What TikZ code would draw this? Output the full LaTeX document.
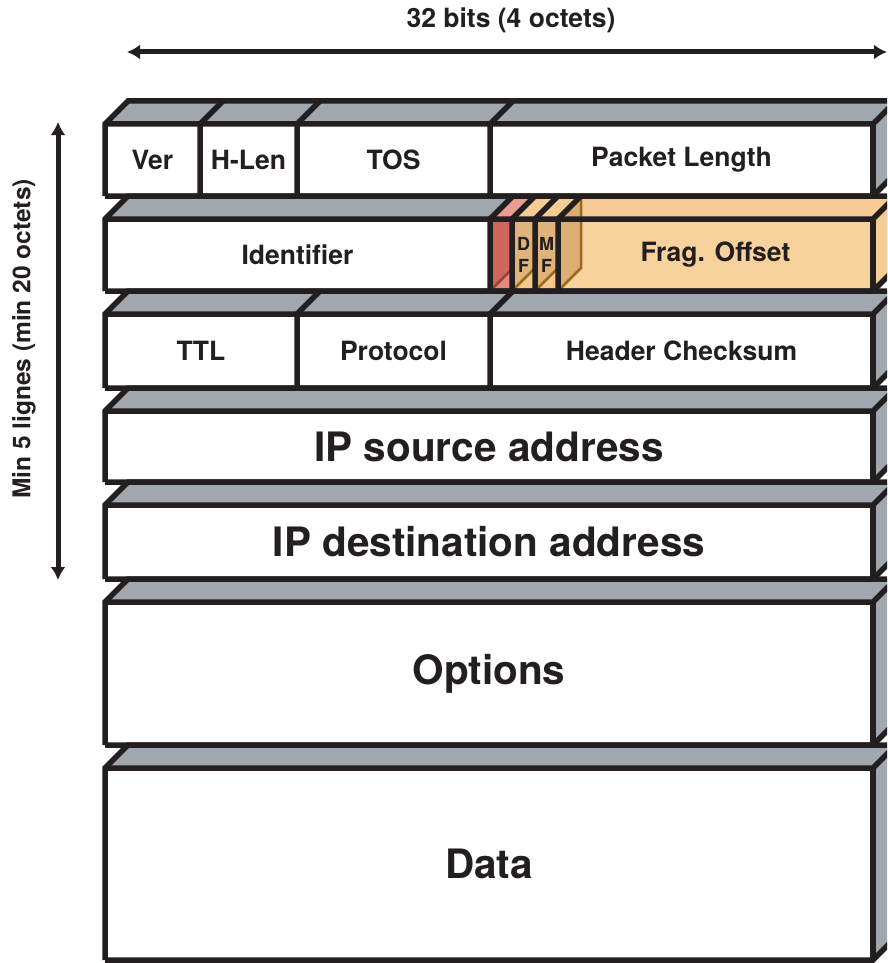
\documentclass[tikz,border=0pt]{standalone}
\usepackage{fontspec}
\setmainfont{TeX Gyre Heros}
\usetikzlibrary{arrows.meta}
\definecolor{ink}{HTML}{231F20}
\definecolor{slate}{HTML}{A0A7AF}
\definecolor{fragc}{HTML}{F8D29C}
\definecolor{fragtop}{HTML}{F5CC94}
\definecolor{fragside}{HTML}{DDAE72}
\definecolor{flagc}{HTML}{E0B378}
\definecolor{flaglt}{HTML}{F4C98F}
\definecolor{flagtop}{HTML}{EFC289}
\definecolor{redc}{HTML}{CF665D}
\definecolor{redlt}{HTML}{E5897F}
\definecolor{redtop}{HTML}{EC9D93}
\definecolor{brownl}{HTML}{9C6B1E}
\newcommand\iprow[4]{%
  \fill[#3] (105,#1) -- (128,{#1-23}) -- (896,{#1-23}) -- (873,#1) -- cycle;
  \fill[#3] (873,#1) -- (896,{#1-23}) -- (896,{#2-23}) -- (873,#2) -- cycle;
  \fill[#4] (105,#1) rectangle (873,#2);
}
\newcommand\iprowedge[2]{%
  \draw[edge] (105,#2) -- (105,#1) -- (128,{#1-23}) -- (896,{#1-23});
  \draw[edge] (105,#1) -- (873,#1) -- (896,{#1-23});
  \draw[edge] (105,#2) -- (873,#2) -- (896,{#2-23});
  \draw[edge] (873,#1) -- (873,#2);
}
\newcommand\ipdiv[3]{%
  \draw[edge] (#1,#3) -- (#1,#2) -- ({#1+23},{#2-23});
}
\begin{document}
\begin{tikzpicture}[x=1pt,y=-1pt,
  edge/.style={draw=ink,line width=5.5pt,line cap=butt},
  small/.style={text=ink,font=\fontsize{26.5}{30}\selectfont\bfseries,inner sep=0pt},
  big/.style={text=ink,font=\fontsize{40.5}{48}\selectfont\bfseries,inner sep=0pt},
  tiny/.style={text=ink,font=\fontsize{18}{18}\selectfont\bfseries,inner sep=0pt,align=center},
  dimarrow/.style={draw=ink,line width=5pt,{Latex[length=13pt,width=15pt]}-{Latex[length=13pt,width=15pt]}}]
\useasboundingbox (0,0) rectangle (887,963);
\clip (0,0) rectangle (887,963);
\fill[white] (0,0) rectangle (887,963);

% Row 1
\iprow{124}{196}{slate}{white}
\iprowedge{124}{196}
\ipdiv{200}{124}{196}
\ipdiv{297}{124}{196}
\ipdiv{490}{124}{196}
\node[small] (ver) at (152.5,160) {Ver};
\node[small] (hlen) at (248.5,160) {H-Len};
\node[small] (tos) at (393.5,160) {TOS};
\node[small] (plen) at (681.5,160) {Packet Length};

% Row 2
\iprow{219}{291}{slate}{white}
\fill[fragtop] (490,219) -- (513,196) -- (896,196) -- (873,219) -- cycle;
\fill[fragtop] (873,219) -- (896,196) -- (896,268) -- (873,291) -- cycle;
\fill[redtop] (490,219) -- (513,196) -- (535,196) -- (512,219) -- cycle;
\fill[redc] (490,219) rectangle (512,291);
\fill[redlt] (490,291) -- (512,269) -- (512,291) -- cycle;
\draw[draw=redc!70!black,line width=2.5pt] (492,289) -- (511,270);
\fill[flagc] (512,219) rectangle (558,291);
\fill[flaglt] (512,291) -- (535,268) -- (535,291) -- cycle;
\fill[flaglt] (535,291) -- (558,268) -- (558,291) -- cycle;
\draw[draw=brownl,line width=2.5pt] (514,289) -- (534,269);
\draw[draw=brownl,line width=2.5pt] (537,289) -- (557,269);
\fill[fragc] (558,219) rectangle (873,291);
\fill[fragside] (558,219) -- (581,196) -- (581,268) -- (558,291) -- cycle;
\draw[draw=brownl,line width=2.5pt] (581,198) -- (581,268) -- (560,289);
\draw[draw=redc!70!black,line width=2.5pt] (491,218) -- (512,197);
\iprowedge{219}{291}
\ipdiv{490}{219}{291}
\ipdiv{512}{219}{291}
\ipdiv{535}{219}{291}
\ipdiv{558}{219}{291}
\node[small] (ident) at (297.5,255) {Identifier};
\node[tiny] (df) at (523.5,255) {D\\[4pt]F};
\node[tiny] (mf) at (546.5,255) {M\\[4pt]F};
\node[small] (frag) at (715.5,255) {Frag. Offset};

% Row 3
\iprow{314}{388}{slate}{white}
\iprowedge{314}{388}
\ipdiv{297}{314}{388}
\ipdiv{490}{314}{388}
\node[small] (ttl) at (201,351) {TTL};
\node[small] (proto) at (393.5,351) {Protocol};
\node[small] (hcs) at (681.5,351) {Header Checksum};

% Row 4
\iprow{411}{482}{slate}{white}
\iprowedge{411}{482}
\node[big] (src) at (489,446.5) {IP source address};

% Row 5
\iprow{505}{579}{slate}{white}
\iprowedge{505}{579}
\node[big] (dst) at (489,542) {IP destination address};

% Row 6
\iprow{602}{745}{slate}{white}
\iprowedge{602}{745}
\node[big] (opt) at (489,673.5) {Options};

% Row 7
\iprow{768}{960}{slate}{white}
\iprowedge{768}{960}
\node[big] (data) at (489,864) {Data};

% Dimension arrows
\coordinate (hL) at (127,52);
\coordinate (hR) at (887,52);
\draw[dimarrow] (hL) -- (hR);
\node[text=ink,font=\fontsize{26.5}{30}\selectfont\bfseries,inner sep=0pt] (wlab) at (511,20) {32 bits (4 octets)};
\coordinate (vT) at (58,122);
\coordinate (vB) at (58,580);
\draw[dimarrow] (vT) -- (vB);
\node[text=ink,font=\fontsize{24.5}{28}\selectfont\bfseries,inner sep=0pt,rotate=90] (hlab) at (24,339) {Min 5 lignes (min 20 octets)};
\end{tikzpicture}
\end{document}
